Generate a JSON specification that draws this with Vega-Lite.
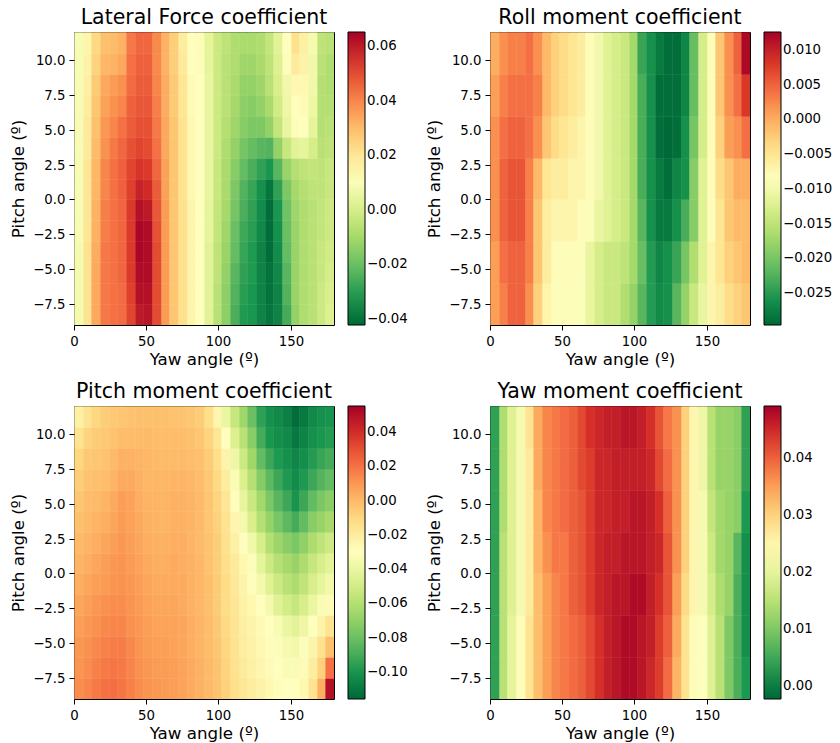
{"$schema":"https://vega.github.io/schema/vega-lite/v6.json","padding":{"left":10,"top":7,"right":0,"bottom":0},"autosize":{"type":"pad"},"background":"white",
"config":{"font":"DejaVu Sans","view":{"stroke":"black","strokeWidth":1},"title":{"fontSize":20.5,"font":"DejaVu Sans","fontWeight":"normal","offset":4,"color":"black"},"axis":{"grid":false,"domain":false,"tickColor":"black","tickSize":5,"tickWidth":1,"labelFontSize":13.3,"titleFontSize":16.7,"titleFontWeight":"normal","labelColor":"black","titleColor":"black","labelPadding":4,"titlePadding":5,"labelFlush":false,"labelOverlap":false},"axisX":{"titlePadding":4},"legend":{"gradientLength":293,"gradientThickness":17,"labelFontSize":13.3,"labelColor":"black","gradientStrokeColor":"black","gradientStrokeWidth":1,"offset":14,"title":null,"padding":0,"labelOverlap":false,"labelOffset":14}},
"columns":2,"spacing":{"column":17,"row":12},
"resolve":{"scale":{"color":"independent"}},
"datasets":{
"a":[{"x":3,"y":-8.25,"v":0.008},{"x":9,"y":-8.25,"v":0.021},{"x":15,"y":-8.25,"v":0.034},{"x":21,"y":-8.25,"v":0.042},{"x":27,"y":-8.25,"v":0.043},{"x":33,"y":-8.25,"v":0.044},{"x":39,"y":-8.25,"v":0.051},{"x":45,"y":-8.25,"v":0.06},{"x":51,"y":-8.25,"v":0.061},{"x":57,"y":-8.25,"v":0.05},{"x":63,"y":-8.25,"v":0.036},{"x":69,"y":-8.25,"v":0.028},{"x":75,"y":-8.25,"v":0.022},{"x":81,"y":-8.25,"v":0.015},{"x":87,"y":-8.25,"v":0.011},{"x":93,"y":-8.25,"v":0.003},{"x":99,"y":-8.25,"v":-0.006},{"x":105,"y":-8.25,"v":-0.014},{"x":111,"y":-8.25,"v":-0.025},{"x":117,"y":-8.25,"v":-0.031},{"x":123,"y":-8.25,"v":-0.032},{"x":129,"y":-8.25,"v":-0.036},{"x":135,"y":-8.25,"v":-0.039},{"x":141,"y":-8.25,"v":-0.036},{"x":147,"y":-8.25,"v":-0.026},{"x":153,"y":-8.25,"v":-0.013},{"x":159,"y":-8.25,"v":-0.008},{"x":165,"y":-8.25,"v":-0.006},{"x":171,"y":-8.25,"v":-0.002},{"x":177,"y":-8.25,"v":0.002},
{"x":3,"y":-6.75,"v":0.008},{"x":9,"y":-6.75,"v":0.021},{"x":15,"y":-6.75,"v":0.034},{"x":21,"y":-6.75,"v":0.042},{"x":27,"y":-6.75,"v":0.043},{"x":33,"y":-6.75,"v":0.044},{"x":39,"y":-6.75,"v":0.052},{"x":45,"y":-6.75,"v":0.062},{"x":51,"y":-6.75,"v":0.062},{"x":57,"y":-6.75,"v":0.05},{"x":63,"y":-6.75,"v":0.036},{"x":69,"y":-6.75,"v":0.028},{"x":75,"y":-6.75,"v":0.022},{"x":81,"y":-6.75,"v":0.015},{"x":87,"y":-6.75,"v":0.011},{"x":93,"y":-6.75,"v":0.003},{"x":99,"y":-6.75,"v":-0.006},{"x":105,"y":-6.75,"v":-0.014},{"x":111,"y":-6.75,"v":-0.024},{"x":117,"y":-6.75,"v":-0.03},{"x":123,"y":-6.75,"v":-0.032},{"x":129,"y":-6.75,"v":-0.036},{"x":135,"y":-6.75,"v":-0.04},{"x":141,"y":-6.75,"v":-0.036},{"x":147,"y":-6.75,"v":-0.024},{"x":153,"y":-6.75,"v":-0.012},{"x":159,"y":-6.75,"v":-0.008},{"x":165,"y":-6.75,"v":-0.006},{"x":171,"y":-6.75,"v":-0.002},{"x":177,"y":-6.75,"v":0.001},
{"x":3,"y":-5.25,"v":0.008},{"x":9,"y":-5.25,"v":0.021},{"x":15,"y":-5.25,"v":0.034},{"x":21,"y":-5.25,"v":0.042},{"x":27,"y":-5.25,"v":0.043},{"x":33,"y":-5.25,"v":0.045},{"x":39,"y":-5.25,"v":0.053},{"x":45,"y":-5.25,"v":0.063},{"x":51,"y":-5.25,"v":0.063},{"x":57,"y":-5.25,"v":0.05},{"x":63,"y":-5.25,"v":0.036},{"x":69,"y":-5.25,"v":0.028},{"x":75,"y":-5.25,"v":0.022},{"x":81,"y":-5.25,"v":0.015},{"x":87,"y":-5.25,"v":0.011},{"x":93,"y":-5.25,"v":0.003},{"x":99,"y":-5.25,"v":-0.005},{"x":105,"y":-5.25,"v":-0.013},{"x":111,"y":-5.25,"v":-0.023},{"x":117,"y":-5.25,"v":-0.029},{"x":123,"y":-5.25,"v":-0.031},{"x":129,"y":-5.25,"v":-0.036},{"x":135,"y":-5.25,"v":-0.04},{"x":141,"y":-5.25,"v":-0.035},{"x":147,"y":-5.25,"v":-0.023},{"x":153,"y":-5.25,"v":-0.012},{"x":159,"y":-5.25,"v":-0.008},{"x":165,"y":-5.25,"v":-0.006},{"x":171,"y":-5.25,"v":-0.003},{"x":177,"y":-5.25,"v":0.0},
{"x":3,"y":-3.75,"v":0.008},{"x":9,"y":-3.75,"v":0.021},{"x":15,"y":-3.75,"v":0.033},{"x":21,"y":-3.75,"v":0.042},{"x":27,"y":-3.75,"v":0.043},{"x":33,"y":-3.75,"v":0.045},{"x":39,"y":-3.75,"v":0.053},{"x":45,"y":-3.75,"v":0.064},{"x":51,"y":-3.75,"v":0.063},{"x":57,"y":-3.75,"v":0.05},{"x":63,"y":-3.75,"v":0.036},{"x":69,"y":-3.75,"v":0.028},{"x":75,"y":-3.75,"v":0.022},{"x":81,"y":-3.75,"v":0.015},{"x":87,"y":-3.75,"v":0.011},{"x":93,"y":-3.75,"v":0.003},{"x":99,"y":-3.75,"v":-0.005},{"x":105,"y":-3.75,"v":-0.012},{"x":111,"y":-3.75,"v":-0.021},{"x":117,"y":-3.75,"v":-0.028},{"x":123,"y":-3.75,"v":-0.031},{"x":129,"y":-3.75,"v":-0.036},{"x":135,"y":-3.75,"v":-0.041},{"x":141,"y":-3.75,"v":-0.034},{"x":147,"y":-3.75,"v":-0.021},{"x":153,"y":-3.75,"v":-0.012},{"x":159,"y":-3.75,"v":-0.008},{"x":165,"y":-3.75,"v":-0.006},{"x":171,"y":-3.75,"v":-0.003},{"x":177,"y":-3.75,"v":-0.001},
{"x":3,"y":-2.25,"v":0.009},{"x":9,"y":-2.25,"v":0.02},{"x":15,"y":-2.25,"v":0.032},{"x":21,"y":-2.25,"v":0.041},{"x":27,"y":-2.25,"v":0.043},{"x":33,"y":-2.25,"v":0.045},{"x":39,"y":-2.25,"v":0.053},{"x":45,"y":-2.25,"v":0.064},{"x":51,"y":-2.25,"v":0.063},{"x":57,"y":-2.25,"v":0.049},{"x":63,"y":-2.25,"v":0.036},{"x":69,"y":-2.25,"v":0.028},{"x":75,"y":-2.25,"v":0.022},{"x":81,"y":-2.25,"v":0.015},{"x":87,"y":-2.25,"v":0.011},{"x":93,"y":-2.25,"v":0.004},{"x":99,"y":-2.25,"v":-0.004},{"x":105,"y":-2.25,"v":-0.011},{"x":111,"y":-2.25,"v":-0.02},{"x":117,"y":-2.25,"v":-0.027},{"x":123,"y":-2.25,"v":-0.03},{"x":129,"y":-2.25,"v":-0.035},{"x":135,"y":-2.25,"v":-0.041},{"x":141,"y":-2.25,"v":-0.033},{"x":147,"y":-2.25,"v":-0.02},{"x":153,"y":-2.25,"v":-0.012},{"x":159,"y":-2.25,"v":-0.008},{"x":165,"y":-2.25,"v":-0.006},{"x":171,"y":-2.25,"v":-0.004},{"x":177,"y":-2.25,"v":-0.002},
{"x":3,"y":-0.75,"v":0.009},{"x":9,"y":-0.75,"v":0.02},{"x":15,"y":-0.75,"v":0.032},{"x":21,"y":-0.75,"v":0.041},{"x":27,"y":-0.75,"v":0.043},{"x":33,"y":-0.75,"v":0.045},{"x":39,"y":-0.75,"v":0.053},{"x":45,"y":-0.75,"v":0.062},{"x":51,"y":-0.75,"v":0.06},{"x":57,"y":-0.75,"v":0.048},{"x":63,"y":-0.75,"v":0.036},{"x":69,"y":-0.75,"v":0.028},{"x":75,"y":-0.75,"v":0.022},{"x":81,"y":-0.75,"v":0.015},{"x":87,"y":-0.75,"v":0.011},{"x":93,"y":-0.75,"v":0.004},{"x":99,"y":-0.75,"v":-0.004},{"x":105,"y":-0.75,"v":-0.01},{"x":111,"y":-0.75,"v":-0.018},{"x":117,"y":-0.75,"v":-0.025},{"x":123,"y":-0.75,"v":-0.029},{"x":129,"y":-0.75,"v":-0.034},{"x":135,"y":-0.75,"v":-0.041},{"x":141,"y":-0.75,"v":-0.032},{"x":147,"y":-0.75,"v":-0.019},{"x":153,"y":-0.75,"v":-0.011},{"x":159,"y":-0.75,"v":-0.008},{"x":165,"y":-0.75,"v":-0.006},{"x":171,"y":-0.75,"v":-0.004},{"x":177,"y":-0.75,"v":-0.002},
{"x":3,"y":0.75,"v":0.009},{"x":9,"y":0.75,"v":0.02},{"x":15,"y":0.75,"v":0.031},{"x":21,"y":0.75,"v":0.04},{"x":27,"y":0.75,"v":0.043},{"x":33,"y":0.75,"v":0.046},{"x":39,"y":0.75,"v":0.052},{"x":45,"y":0.75,"v":0.058},{"x":51,"y":0.75,"v":0.056},{"x":57,"y":0.75,"v":0.047},{"x":63,"y":0.75,"v":0.035},{"x":69,"y":0.75,"v":0.028},{"x":75,"y":0.75,"v":0.021},{"x":81,"y":0.75,"v":0.014},{"x":87,"y":0.75,"v":0.011},{"x":93,"y":0.75,"v":0.005},{"x":99,"y":0.75,"v":-0.003},{"x":105,"y":0.75,"v":-0.009},{"x":111,"y":0.75,"v":-0.017},{"x":117,"y":0.75,"v":-0.024},{"x":123,"y":0.75,"v":-0.028},{"x":129,"y":0.75,"v":-0.033},{"x":135,"y":0.75,"v":-0.039},{"x":141,"y":0.75,"v":-0.029},{"x":147,"y":0.75,"v":-0.017},{"x":153,"y":0.75,"v":-0.01},{"x":159,"y":0.75,"v":-0.007},{"x":165,"y":0.75,"v":-0.005},{"x":171,"y":0.75,"v":-0.005},{"x":177,"y":0.75,"v":-0.003},
{"x":3,"y":2.25,"v":0.009},{"x":9,"y":2.25,"v":0.02},{"x":15,"y":2.25,"v":0.031},{"x":21,"y":2.25,"v":0.04},{"x":27,"y":2.25,"v":0.043},{"x":33,"y":2.25,"v":0.046},{"x":39,"y":2.25,"v":0.051},{"x":45,"y":2.25,"v":0.054},{"x":51,"y":2.25,"v":0.053},{"x":57,"y":2.25,"v":0.045},{"x":63,"y":2.25,"v":0.035},{"x":69,"y":2.25,"v":0.028},{"x":75,"y":2.25,"v":0.021},{"x":81,"y":2.25,"v":0.014},{"x":87,"y":2.25,"v":0.011},{"x":93,"y":2.25,"v":0.005},{"x":99,"y":2.25,"v":-0.003},{"x":105,"y":2.25,"v":-0.009},{"x":111,"y":2.25,"v":-0.015},{"x":117,"y":2.25,"v":-0.021},{"x":123,"y":2.25,"v":-0.025},{"x":129,"y":2.25,"v":-0.029},{"x":135,"y":2.25,"v":-0.032},{"x":141,"y":2.25,"v":-0.023},{"x":147,"y":2.25,"v":-0.012},{"x":153,"y":2.25,"v":-0.007},{"x":159,"y":2.25,"v":-0.005},{"x":165,"y":2.25,"v":-0.004},{"x":171,"y":2.25,"v":-0.005},{"x":177,"y":2.25,"v":-0.003},
{"x":3,"y":3.75,"v":0.009},{"x":9,"y":3.75,"v":0.019},{"x":15,"y":3.75,"v":0.03},{"x":21,"y":3.75,"v":0.038},{"x":27,"y":3.75,"v":0.042},{"x":33,"y":3.75,"v":0.045},{"x":39,"y":3.75,"v":0.049},{"x":45,"y":3.75,"v":0.051},{"x":51,"y":3.75,"v":0.05},{"x":57,"y":3.75,"v":0.043},{"x":63,"y":3.75,"v":0.034},{"x":69,"y":3.75,"v":0.028},{"x":75,"y":3.75,"v":0.021},{"x":81,"y":3.75,"v":0.014},{"x":87,"y":3.75,"v":0.011},{"x":93,"y":3.75,"v":0.005},{"x":99,"y":3.75,"v":-0.002},{"x":105,"y":3.75,"v":-0.008},{"x":111,"y":3.75,"v":-0.013},{"x":117,"y":3.75,"v":-0.018},{"x":123,"y":3.75,"v":-0.021},{"x":129,"y":3.75,"v":-0.023},{"x":135,"y":3.75,"v":-0.024},{"x":141,"y":3.75,"v":-0.013},{"x":147,"y":3.75,"v":-0.003},{"x":153,"y":3.75,"v":0.003},{"x":159,"y":3.75,"v":0.004},{"x":165,"y":3.75,"v":0.0},{"x":171,"y":3.75,"v":-0.006},{"x":177,"y":3.75,"v":-0.005},
{"x":3,"y":5.25,"v":0.009},{"x":9,"y":5.25,"v":0.019},{"x":15,"y":5.25,"v":0.029},{"x":21,"y":5.25,"v":0.037},{"x":27,"y":5.25,"v":0.04},{"x":33,"y":5.25,"v":0.043},{"x":39,"y":5.25,"v":0.047},{"x":45,"y":5.25,"v":0.049},{"x":51,"y":5.25,"v":0.049},{"x":57,"y":5.25,"v":0.042},{"x":63,"y":5.25,"v":0.034},{"x":69,"y":5.25,"v":0.028},{"x":75,"y":5.25,"v":0.021},{"x":81,"y":5.25,"v":0.014},{"x":87,"y":5.25,"v":0.011},{"x":93,"y":5.25,"v":0.005},{"x":99,"y":5.25,"v":-0.002},{"x":105,"y":5.25,"v":-0.007},{"x":111,"y":5.25,"v":-0.011},{"x":117,"y":5.25,"v":-0.015},{"x":123,"y":5.25,"v":-0.017},{"x":129,"y":5.25,"v":-0.017},{"x":135,"y":5.25,"v":-0.013},{"x":141,"y":5.25,"v":-0.004},{"x":147,"y":5.25,"v":0.005},{"x":153,"y":5.25,"v":0.01},{"x":159,"y":5.25,"v":0.011},{"x":165,"y":5.25,"v":0.004},{"x":171,"y":5.25,"v":-0.007},{"x":177,"y":5.25,"v":-0.006},
{"x":3,"y":6.75,"v":0.009},{"x":9,"y":6.75,"v":0.018},{"x":15,"y":6.75,"v":0.028},{"x":21,"y":6.75,"v":0.035},{"x":27,"y":6.75,"v":0.038},{"x":33,"y":6.75,"v":0.04},{"x":39,"y":6.75,"v":0.046},{"x":45,"y":6.75,"v":0.048},{"x":51,"y":6.75,"v":0.048},{"x":57,"y":6.75,"v":0.041},{"x":63,"y":6.75,"v":0.033},{"x":69,"y":6.75,"v":0.027},{"x":75,"y":6.75,"v":0.02},{"x":81,"y":6.75,"v":0.013},{"x":87,"y":6.75,"v":0.011},{"x":93,"y":6.75,"v":0.005},{"x":99,"y":6.75,"v":-0.002},{"x":105,"y":6.75,"v":-0.006},{"x":111,"y":6.75,"v":-0.01},{"x":117,"y":6.75,"v":-0.014},{"x":123,"y":6.75,"v":-0.015},{"x":129,"y":6.75,"v":-0.013},{"x":135,"y":6.75,"v":-0.009},{"x":141,"y":6.75,"v":-0.001},{"x":147,"y":6.75,"v":0.006},{"x":153,"y":6.75,"v":0.012},{"x":159,"y":6.75,"v":0.013},{"x":165,"y":6.75,"v":0.006},{"x":171,"y":6.75,"v":-0.007},{"x":177,"y":6.75,"v":-0.007},
{"x":3,"y":8.25,"v":0.009},{"x":9,"y":8.25,"v":0.017},{"x":15,"y":8.25,"v":0.027},{"x":21,"y":8.25,"v":0.034},{"x":27,"y":8.25,"v":0.036},{"x":33,"y":8.25,"v":0.038},{"x":39,"y":8.25,"v":0.044},{"x":45,"y":8.25,"v":0.047},{"x":51,"y":8.25,"v":0.047},{"x":57,"y":8.25,"v":0.04},{"x":63,"y":8.25,"v":0.033},{"x":69,"y":8.25,"v":0.027},{"x":75,"y":8.25,"v":0.02},{"x":81,"y":8.25,"v":0.013},{"x":87,"y":8.25,"v":0.011},{"x":93,"y":8.25,"v":0.005},{"x":99,"y":8.25,"v":-0.002},{"x":105,"y":8.25,"v":-0.006},{"x":111,"y":8.25,"v":-0.009},{"x":117,"y":8.25,"v":-0.013},{"x":123,"y":8.25,"v":-0.013},{"x":129,"y":8.25,"v":-0.011},{"x":135,"y":8.25,"v":-0.006},{"x":141,"y":8.25,"v":0.001},{"x":147,"y":8.25,"v":0.007},{"x":153,"y":8.25,"v":0.014},{"x":159,"y":8.25,"v":0.014},{"x":165,"y":8.25,"v":0.007},{"x":171,"y":8.25,"v":-0.007},{"x":177,"y":8.25,"v":-0.008},
{"x":3,"y":9.75,"v":0.009},{"x":9,"y":9.75,"v":0.016},{"x":15,"y":9.75,"v":0.025},{"x":21,"y":9.75,"v":0.031},{"x":27,"y":9.75,"v":0.032},{"x":33,"y":9.75,"v":0.034},{"x":39,"y":9.75,"v":0.043},{"x":45,"y":9.75,"v":0.046},{"x":51,"y":9.75,"v":0.046},{"x":57,"y":9.75,"v":0.039},{"x":63,"y":9.75,"v":0.032},{"x":69,"y":9.75,"v":0.026},{"x":75,"y":9.75,"v":0.019},{"x":81,"y":9.75,"v":0.012},{"x":87,"y":9.75,"v":0.01},{"x":93,"y":9.75,"v":0.004},{"x":99,"y":9.75,"v":-0.002},{"x":105,"y":9.75,"v":-0.006},{"x":111,"y":9.75,"v":-0.008},{"x":117,"y":9.75,"v":-0.011},{"x":123,"y":9.75,"v":-0.011},{"x":129,"y":9.75,"v":-0.009},{"x":135,"y":9.75,"v":-0.005},{"x":141,"y":9.75,"v":0.002},{"x":147,"y":9.75,"v":0.01},{"x":153,"y":9.75,"v":0.019},{"x":159,"y":9.75,"v":0.016},{"x":165,"y":9.75,"v":0.007},{"x":171,"y":9.75,"v":-0.006},{"x":177,"y":9.75,"v":-0.008},
{"x":3,"y":11.25,"v":0.009},{"x":9,"y":11.25,"v":0.015},{"x":15,"y":11.25,"v":0.024},{"x":21,"y":11.25,"v":0.029},{"x":27,"y":11.25,"v":0.03},{"x":33,"y":11.25,"v":0.032},{"x":39,"y":11.25,"v":0.042},{"x":45,"y":11.25,"v":0.045},{"x":51,"y":11.25,"v":0.045},{"x":57,"y":11.25,"v":0.039},{"x":63,"y":11.25,"v":0.032},{"x":69,"y":11.25,"v":0.026},{"x":75,"y":11.25,"v":0.018},{"x":81,"y":11.25,"v":0.012},{"x":87,"y":11.25,"v":0.01},{"x":93,"y":11.25,"v":0.004},{"x":99,"y":11.25,"v":-0.002},{"x":105,"y":11.25,"v":-0.005},{"x":111,"y":11.25,"v":-0.008},{"x":117,"y":11.25,"v":-0.009},{"x":123,"y":11.25,"v":-0.009},{"x":129,"y":11.25,"v":-0.008},{"x":135,"y":11.25,"v":-0.004},{"x":141,"y":11.25,"v":0.003},{"x":147,"y":11.25,"v":0.011},{"x":153,"y":11.25,"v":0.022},{"x":159,"y":11.25,"v":0.017},{"x":165,"y":11.25,"v":0.008},{"x":171,"y":11.25,"v":-0.005},{"x":177,"y":11.25,"v":-0.006}],
"b":[{"x":3,"y":-7.5,"v":0.001},{"x":9,"y":-7.5,"v":0.003},{"x":15,"y":-7.5,"v":0.005},{"x":21,"y":-7.5,"v":0.005},{"x":27,"y":-7.5,"v":0.002},{"x":33,"y":-7.5,"v":-0.003},{"x":39,"y":-7.5,"v":-0.007},{"x":45,"y":-7.5,"v":-0.008},{"x":51,"y":-7.5,"v":-0.009},{"x":57,"y":-7.5,"v":-0.009},{"x":63,"y":-7.5,"v":-0.009},{"x":69,"y":-7.5,"v":-0.011},{"x":75,"y":-7.5,"v":-0.013},{"x":81,"y":-7.5,"v":-0.014},{"x":87,"y":-7.5,"v":-0.014},{"x":93,"y":-7.5,"v":-0.016},{"x":99,"y":-7.5,"v":-0.018},{"x":105,"y":-7.5,"v":-0.022},{"x":111,"y":-7.5,"v":-0.025},{"x":117,"y":-7.5,"v":-0.0265},{"x":123,"y":-7.5,"v":-0.026},{"x":129,"y":-7.5,"v":-0.022},{"x":135,"y":-7.5,"v":-0.018},{"x":141,"y":-7.5,"v":-0.014},{"x":147,"y":-7.5,"v":-0.011},{"x":153,"y":-7.5,"v":-0.007},{"x":159,"y":-7.5,"v":-0.006},{"x":165,"y":-7.5,"v":-0.004},{"x":171,"y":-7.5,"v":-0.003},{"x":177,"y":-7.5,"v":-0.002},
{"x":3,"y":-4.5,"v":0.001},{"x":9,"y":-4.5,"v":0.004},{"x":15,"y":-4.5,"v":0.005},{"x":21,"y":-4.5,"v":0.005},{"x":27,"y":-4.5,"v":0.003},{"x":33,"y":-4.5,"v":-0.002},{"x":39,"y":-4.5,"v":-0.006},{"x":45,"y":-4.5,"v":-0.008},{"x":51,"y":-4.5,"v":-0.008},{"x":57,"y":-4.5,"v":-0.008},{"x":63,"y":-4.5,"v":-0.009},{"x":69,"y":-4.5,"v":-0.011},{"x":75,"y":-4.5,"v":-0.013},{"x":81,"y":-4.5,"v":-0.014},{"x":87,"y":-4.5,"v":-0.014},{"x":93,"y":-4.5,"v":-0.015},{"x":99,"y":-4.5,"v":-0.017},{"x":105,"y":-4.5,"v":-0.021},{"x":111,"y":-4.5,"v":-0.025},{"x":117,"y":-4.5,"v":-0.027},{"x":123,"y":-4.5,"v":-0.026},{"x":129,"y":-4.5,"v":-0.024},{"x":135,"y":-4.5,"v":-0.02},{"x":141,"y":-4.5,"v":-0.016},{"x":147,"y":-4.5,"v":-0.012},{"x":153,"y":-4.5,"v":-0.007},{"x":159,"y":-4.5,"v":-0.005},{"x":165,"y":-4.5,"v":-0.003},{"x":171,"y":-4.5,"v":-0.002},{"x":177,"y":-4.5,"v":-0.001},
{"x":3,"y":-1.5,"v":0.002},{"x":9,"y":-1.5,"v":0.005},{"x":15,"y":-1.5,"v":0.006},{"x":21,"y":-1.5,"v":0.006},{"x":27,"y":-1.5,"v":0.003},{"x":33,"y":-1.5,"v":-0.002},{"x":39,"y":-1.5,"v":-0.006},{"x":45,"y":-1.5,"v":-0.007},{"x":51,"y":-1.5,"v":-0.007},{"x":57,"y":-1.5,"v":-0.007},{"x":63,"y":-1.5,"v":-0.008},{"x":69,"y":-1.5,"v":-0.009},{"x":75,"y":-1.5,"v":-0.011},{"x":81,"y":-1.5,"v":-0.012},{"x":87,"y":-1.5,"v":-0.013},{"x":93,"y":-1.5,"v":-0.014},{"x":99,"y":-1.5,"v":-0.017},{"x":105,"y":-1.5,"v":-0.022},{"x":111,"y":-1.5,"v":-0.026},{"x":117,"y":-1.5,"v":-0.028},{"x":123,"y":-1.5,"v":-0.028},{"x":129,"y":-1.5,"v":-0.026},{"x":135,"y":-1.5,"v":-0.023},{"x":141,"y":-1.5,"v":-0.019},{"x":147,"y":-1.5,"v":-0.012},{"x":153,"y":-1.5,"v":-0.008},{"x":159,"y":-1.5,"v":-0.005},{"x":165,"y":-1.5,"v":-0.002},{"x":171,"y":-1.5,"v":-0.001},{"x":177,"y":-1.5,"v":-0.001},
{"x":3,"y":1.5,"v":0.002},{"x":9,"y":1.5,"v":0.005},{"x":15,"y":1.5,"v":0.006},{"x":21,"y":1.5,"v":0.006},{"x":27,"y":1.5,"v":0.003},{"x":33,"y":1.5,"v":-0.001},{"x":39,"y":1.5,"v":-0.005},{"x":45,"y":1.5,"v":-0.006},{"x":51,"y":1.5,"v":-0.006},{"x":57,"y":1.5,"v":-0.007},{"x":63,"y":1.5,"v":-0.007},{"x":69,"y":1.5,"v":-0.008},{"x":75,"y":1.5,"v":-0.01},{"x":81,"y":1.5,"v":-0.012},{"x":87,"y":1.5,"v":-0.013},{"x":93,"y":1.5,"v":-0.014},{"x":99,"y":1.5,"v":-0.017},{"x":105,"y":1.5,"v":-0.023},{"x":111,"y":1.5,"v":-0.026},{"x":117,"y":1.5,"v":-0.028},{"x":123,"y":1.5,"v":-0.029},{"x":129,"y":1.5,"v":-0.027},{"x":135,"y":1.5,"v":-0.026},{"x":141,"y":1.5,"v":-0.019},{"x":147,"y":1.5,"v":-0.012},{"x":153,"y":1.5,"v":-0.008},{"x":159,"y":1.5,"v":-0.004},{"x":165,"y":1.5,"v":-0.002},{"x":171,"y":1.5,"v":0.0},{"x":177,"y":1.5,"v":0.0},
{"x":3,"y":4.5,"v":0.002},{"x":9,"y":4.5,"v":0.004},{"x":15,"y":4.5,"v":0.005},{"x":21,"y":4.5,"v":0.005},{"x":27,"y":4.5,"v":0.004},{"x":33,"y":4.5,"v":0.002},{"x":39,"y":4.5,"v":-0.002},{"x":45,"y":4.5,"v":-0.004},{"x":51,"y":4.5,"v":-0.005},{"x":57,"y":4.5,"v":-0.006},{"x":63,"y":4.5,"v":-0.007},{"x":69,"y":4.5,"v":-0.008},{"x":75,"y":4.5,"v":-0.01},{"x":81,"y":4.5,"v":-0.012},{"x":87,"y":4.5,"v":-0.013},{"x":93,"y":4.5,"v":-0.014},{"x":99,"y":4.5,"v":-0.017},{"x":105,"y":4.5,"v":-0.023},{"x":111,"y":4.5,"v":-0.026},{"x":117,"y":4.5,"v":-0.029},{"x":123,"y":4.5,"v":-0.0295},{"x":129,"y":4.5,"v":-0.029},{"x":135,"y":4.5,"v":-0.026},{"x":141,"y":4.5,"v":-0.02},{"x":147,"y":4.5,"v":-0.013},{"x":153,"y":4.5,"v":-0.008},{"x":159,"y":4.5,"v":-0.003},{"x":165,"y":4.5,"v":0.001},{"x":171,"y":4.5,"v":0.002},{"x":177,"y":4.5,"v":0.004},
{"x":3,"y":7.5,"v":0.001},{"x":9,"y":7.5,"v":0.003},{"x":15,"y":7.5,"v":0.004},{"x":21,"y":7.5,"v":0.004},{"x":27,"y":7.5,"v":0.004},{"x":33,"y":7.5,"v":0.003},{"x":39,"y":7.5,"v":-0.001},{"x":45,"y":7.5,"v":-0.003},{"x":51,"y":7.5,"v":-0.004},{"x":57,"y":7.5,"v":-0.005},{"x":63,"y":7.5,"v":-0.006},{"x":69,"y":7.5,"v":-0.008},{"x":75,"y":7.5,"v":-0.01},{"x":81,"y":7.5,"v":-0.012},{"x":87,"y":7.5,"v":-0.013},{"x":93,"y":7.5,"v":-0.014},{"x":99,"y":7.5,"v":-0.017},{"x":105,"y":7.5,"v":-0.023},{"x":111,"y":7.5,"v":-0.026},{"x":117,"y":7.5,"v":-0.029},{"x":123,"y":7.5,"v":-0.029},{"x":129,"y":7.5,"v":-0.029},{"x":135,"y":7.5,"v":-0.027},{"x":141,"y":7.5,"v":-0.021},{"x":147,"y":7.5,"v":-0.013},{"x":153,"y":7.5,"v":-0.008},{"x":159,"y":7.5,"v":-0.002},{"x":165,"y":7.5,"v":0.002},{"x":171,"y":7.5,"v":0.004},{"x":177,"y":7.5,"v":0.008},
{"x":3,"y":10.5,"v":0.0},{"x":9,"y":10.5,"v":0.002},{"x":15,"y":10.5,"v":0.003},{"x":21,"y":10.5,"v":0.003},{"x":27,"y":10.5,"v":0.004},{"x":33,"y":10.5,"v":0.002},{"x":39,"y":10.5,"v":-0.001},{"x":45,"y":10.5,"v":-0.003},{"x":51,"y":10.5,"v":-0.004},{"x":57,"y":10.5,"v":-0.005},{"x":63,"y":10.5,"v":-0.006},{"x":69,"y":10.5,"v":-0.008},{"x":75,"y":10.5,"v":-0.01},{"x":81,"y":10.5,"v":-0.012},{"x":87,"y":10.5,"v":-0.013},{"x":93,"y":10.5,"v":-0.014},{"x":99,"y":10.5,"v":-0.017},{"x":105,"y":10.5,"v":-0.024},{"x":111,"y":10.5,"v":-0.026},{"x":117,"y":10.5,"v":-0.028},{"x":123,"y":10.5,"v":-0.029},{"x":129,"y":10.5,"v":-0.029},{"x":135,"y":10.5,"v":-0.027},{"x":141,"y":10.5,"v":-0.021},{"x":147,"y":10.5,"v":-0.013},{"x":153,"y":10.5,"v":-0.008},{"x":159,"y":10.5,"v":-0.002},{"x":165,"y":10.5,"v":0.002},{"x":171,"y":10.5,"v":0.005},{"x":177,"y":10.5,"v":0.012}],
"c":[{"x":3,"y":-8.25,"v":0.013},{"x":9,"y":-8.25,"v":0.015},{"x":15,"y":-8.25,"v":0.018},{"x":21,"y":-8.25,"v":0.02},{"x":27,"y":-8.25,"v":0.021},{"x":33,"y":-8.25,"v":0.019},{"x":39,"y":-8.25,"v":0.016},{"x":45,"y":-8.25,"v":0.013},{"x":51,"y":-8.25,"v":0.011},{"x":57,"y":-8.25,"v":0.01},{"x":63,"y":-8.25,"v":0.009},{"x":69,"y":-8.25,"v":0.008},{"x":75,"y":-8.25,"v":0.007},{"x":81,"y":-8.25,"v":0.005},{"x":87,"y":-8.25,"v":0.003},{"x":93,"y":-8.25,"v":0.0},{"x":99,"y":-8.25,"v":-0.003},{"x":105,"y":-8.25,"v":-0.008},{"x":111,"y":-8.25,"v":-0.013},{"x":117,"y":-8.25,"v":-0.017},{"x":123,"y":-8.25,"v":-0.02},{"x":129,"y":-8.25,"v":-0.023},{"x":135,"y":-8.25,"v":-0.026},{"x":141,"y":-8.25,"v":-0.029},{"x":147,"y":-8.25,"v":-0.03},{"x":153,"y":-8.25,"v":-0.03},{"x":159,"y":-8.25,"v":-0.026},{"x":165,"y":-8.25,"v":-0.015},{"x":171,"y":-8.25,"v":0.004},{"x":177,"y":-8.25,"v":0.05},
{"x":3,"y":-6.75,"v":0.011},{"x":9,"y":-6.75,"v":0.013},{"x":15,"y":-6.75,"v":0.016},{"x":21,"y":-6.75,"v":0.018},{"x":27,"y":-6.75,"v":0.019},{"x":33,"y":-6.75,"v":0.018},{"x":39,"y":-6.75,"v":0.015},{"x":45,"y":-6.75,"v":0.012},{"x":51,"y":-6.75,"v":0.01},{"x":57,"y":-6.75,"v":0.009},{"x":63,"y":-6.75,"v":0.009},{"x":69,"y":-6.75,"v":0.008},{"x":75,"y":-6.75,"v":0.007},{"x":81,"y":-6.75,"v":0.005},{"x":87,"y":-6.75,"v":0.003},{"x":93,"y":-6.75,"v":0.0},{"x":99,"y":-6.75,"v":-0.003},{"x":105,"y":-6.75,"v":-0.009},{"x":111,"y":-6.75,"v":-0.014},{"x":117,"y":-6.75,"v":-0.019},{"x":123,"y":-6.75,"v":-0.022},{"x":129,"y":-6.75,"v":-0.025},{"x":135,"y":-6.75,"v":-0.028},{"x":141,"y":-6.75,"v":-0.031},{"x":147,"y":-6.75,"v":-0.033},{"x":153,"y":-6.75,"v":-0.033},{"x":159,"y":-6.75,"v":-0.028},{"x":165,"y":-6.75,"v":-0.02},{"x":171,"y":-6.75,"v":-0.008},{"x":177,"y":-6.75,"v":0.02},
{"x":3,"y":-5.25,"v":0.01},{"x":9,"y":-5.25,"v":0.012},{"x":15,"y":-5.25,"v":0.014},{"x":21,"y":-5.25,"v":0.016},{"x":27,"y":-5.25,"v":0.017},{"x":33,"y":-5.25,"v":0.017},{"x":39,"y":-5.25,"v":0.014},{"x":45,"y":-5.25,"v":0.011},{"x":51,"y":-5.25,"v":0.009},{"x":57,"y":-5.25,"v":0.008},{"x":63,"y":-5.25,"v":0.008},{"x":69,"y":-5.25,"v":0.007},{"x":75,"y":-5.25,"v":0.006},{"x":81,"y":-5.25,"v":0.004},{"x":87,"y":-5.25,"v":0.002},{"x":93,"y":-5.25,"v":-0.001},{"x":99,"y":-5.25,"v":-0.004},{"x":105,"y":-5.25,"v":-0.01},{"x":111,"y":-5.25,"v":-0.015},{"x":117,"y":-5.25,"v":-0.02},{"x":123,"y":-5.25,"v":-0.023},{"x":129,"y":-5.25,"v":-0.026},{"x":135,"y":-5.25,"v":-0.029},{"x":141,"y":-5.25,"v":-0.032},{"x":147,"y":-5.25,"v":-0.035},{"x":153,"y":-5.25,"v":-0.037},{"x":159,"y":-5.25,"v":-0.032},{"x":165,"y":-5.25,"v":-0.024},{"x":171,"y":-5.25,"v":-0.014},{"x":177,"y":-5.25,"v":-0.002},
{"x":3,"y":-3.75,"v":0.008},{"x":9,"y":-3.75,"v":0.01},{"x":15,"y":-3.75,"v":0.012},{"x":21,"y":-3.75,"v":0.014},{"x":27,"y":-3.75,"v":0.015},{"x":33,"y":-3.75,"v":0.015},{"x":39,"y":-3.75,"v":0.012},{"x":45,"y":-3.75,"v":0.01},{"x":51,"y":-3.75,"v":0.008},{"x":57,"y":-3.75,"v":0.007},{"x":63,"y":-3.75,"v":0.007},{"x":69,"y":-3.75,"v":0.007},{"x":75,"y":-3.75,"v":0.006},{"x":81,"y":-3.75,"v":0.004},{"x":87,"y":-3.75,"v":0.002},{"x":93,"y":-3.75,"v":-0.001},{"x":99,"y":-3.75,"v":-0.005},{"x":105,"y":-3.75,"v":-0.011},{"x":111,"y":-3.75,"v":-0.016},{"x":117,"y":-3.75,"v":-0.021},{"x":123,"y":-3.75,"v":-0.024},{"x":129,"y":-3.75,"v":-0.027},{"x":135,"y":-3.75,"v":-0.03},{"x":141,"y":-3.75,"v":-0.034},{"x":147,"y":-3.75,"v":-0.04},{"x":153,"y":-3.75,"v":-0.043},{"x":159,"y":-3.75,"v":-0.038},{"x":165,"y":-3.75,"v":-0.031},{"x":171,"y":-3.75,"v":-0.023},{"x":177,"y":-3.75,"v":-0.015},
{"x":3,"y":-2.25,"v":0.006},{"x":9,"y":-2.25,"v":0.008},{"x":15,"y":-2.25,"v":0.01},{"x":21,"y":-2.25,"v":0.012},{"x":27,"y":-2.25,"v":0.013},{"x":33,"y":-2.25,"v":0.013},{"x":39,"y":-2.25,"v":0.011},{"x":45,"y":-2.25,"v":0.009},{"x":51,"y":-2.25,"v":0.007},{"x":57,"y":-2.25,"v":0.006},{"x":63,"y":-2.25,"v":0.006},{"x":69,"y":-2.25,"v":0.006},{"x":75,"y":-2.25,"v":0.005},{"x":81,"y":-2.25,"v":0.003},{"x":87,"y":-2.25,"v":0.001},{"x":93,"y":-2.25,"v":-0.002},{"x":99,"y":-2.25,"v":-0.006},{"x":105,"y":-2.25,"v":-0.012},{"x":111,"y":-2.25,"v":-0.017},{"x":117,"y":-2.25,"v":-0.022},{"x":123,"y":-2.25,"v":-0.026},{"x":129,"y":-2.25,"v":-0.03},{"x":135,"y":-2.25,"v":-0.036},{"x":141,"y":-2.25,"v":-0.044},{"x":147,"y":-2.25,"v":-0.05},{"x":153,"y":-2.25,"v":-0.054},{"x":159,"y":-2.25,"v":-0.048},{"x":165,"y":-2.25,"v":-0.04},{"x":171,"y":-2.25,"v":-0.033},{"x":177,"y":-2.25,"v":-0.028},
{"x":3,"y":-0.75,"v":0.004},{"x":9,"y":-0.75,"v":0.006},{"x":15,"y":-0.75,"v":0.008},{"x":21,"y":-0.75,"v":0.009},{"x":27,"y":-0.75,"v":0.011},{"x":33,"y":-0.75,"v":0.012},{"x":39,"y":-0.75,"v":0.01},{"x":45,"y":-0.75,"v":0.008},{"x":51,"y":-0.75,"v":0.006},{"x":57,"y":-0.75,"v":0.005},{"x":63,"y":-0.75,"v":0.005},{"x":69,"y":-0.75,"v":0.005},{"x":75,"y":-0.75,"v":0.005},{"x":81,"y":-0.75,"v":0.003},{"x":87,"y":-0.75,"v":0.001},{"x":93,"y":-0.75,"v":-0.002},{"x":99,"y":-0.75,"v":-0.006},{"x":105,"y":-0.75,"v":-0.012},{"x":111,"y":-0.75,"v":-0.018},{"x":117,"y":-0.75,"v":-0.024},{"x":123,"y":-0.75,"v":-0.029},{"x":129,"y":-0.75,"v":-0.036},{"x":135,"y":-0.75,"v":-0.045},{"x":141,"y":-0.75,"v":-0.052},{"x":147,"y":-0.75,"v":-0.058},{"x":153,"y":-0.75,"v":-0.062},{"x":159,"y":-0.75,"v":-0.056},{"x":165,"y":-0.75,"v":-0.048},{"x":171,"y":-0.75,"v":-0.042},{"x":177,"y":-0.75,"v":-0.037},
{"x":3,"y":0.75,"v":0.002},{"x":9,"y":0.75,"v":0.004},{"x":15,"y":0.75,"v":0.006},{"x":21,"y":0.75,"v":0.008},{"x":27,"y":0.75,"v":0.01},{"x":33,"y":0.75,"v":0.011},{"x":39,"y":0.75,"v":0.009},{"x":45,"y":0.75,"v":0.007},{"x":51,"y":0.75,"v":0.005},{"x":57,"y":0.75,"v":0.004},{"x":63,"y":0.75,"v":0.004},{"x":69,"y":0.75,"v":0.005},{"x":75,"y":0.75,"v":0.004},{"x":81,"y":0.75,"v":0.003},{"x":87,"y":0.75,"v":0.001},{"x":93,"y":0.75,"v":-0.003},{"x":99,"y":0.75,"v":-0.007},{"x":105,"y":0.75,"v":-0.013},{"x":111,"y":0.75,"v":-0.019},{"x":117,"y":0.75,"v":-0.026},{"x":123,"y":0.75,"v":-0.032},{"x":129,"y":0.75,"v":-0.042},{"x":135,"y":0.75,"v":-0.052},{"x":141,"y":0.75,"v":-0.059},{"x":147,"y":0.75,"v":-0.064},{"x":153,"y":0.75,"v":-0.068},{"x":159,"y":0.75,"v":-0.062},{"x":165,"y":0.75,"v":-0.054},{"x":171,"y":0.75,"v":-0.048},{"x":177,"y":0.75,"v":-0.043},
{"x":3,"y":2.25,"v":0.0},{"x":9,"y":2.25,"v":0.002},{"x":15,"y":2.25,"v":0.004},{"x":21,"y":2.25,"v":0.006},{"x":27,"y":2.25,"v":0.008},{"x":33,"y":2.25,"v":0.01},{"x":39,"y":2.25,"v":0.008},{"x":45,"y":2.25,"v":0.006},{"x":51,"y":2.25,"v":0.004},{"x":57,"y":2.25,"v":0.003},{"x":63,"y":2.25,"v":0.003},{"x":69,"y":2.25,"v":0.004},{"x":75,"y":2.25,"v":0.004},{"x":81,"y":2.25,"v":0.002},{"x":87,"y":2.25,"v":0.0},{"x":93,"y":2.25,"v":-0.003},{"x":99,"y":2.25,"v":-0.007},{"x":105,"y":2.25,"v":-0.014},{"x":111,"y":2.25,"v":-0.022},{"x":117,"y":2.25,"v":-0.03},{"x":123,"y":2.25,"v":-0.037},{"x":129,"y":2.25,"v":-0.048},{"x":135,"y":2.25,"v":-0.06},{"x":141,"y":2.25,"v":-0.067},{"x":147,"y":2.25,"v":-0.072},{"x":153,"y":2.25,"v":-0.076},{"x":159,"y":2.25,"v":-0.07},{"x":165,"y":2.25,"v":-0.062},{"x":171,"y":2.25,"v":-0.056},{"x":177,"y":2.25,"v":-0.051},
{"x":3,"y":3.75,"v":-0.002},{"x":9,"y":3.75,"v":0.0},{"x":15,"y":3.75,"v":0.002},{"x":21,"y":3.75,"v":0.004},{"x":27,"y":3.75,"v":0.006},{"x":33,"y":3.75,"v":0.009},{"x":39,"y":3.75,"v":0.007},{"x":45,"y":3.75,"v":0.005},{"x":51,"y":3.75,"v":0.003},{"x":57,"y":3.75,"v":0.002},{"x":63,"y":3.75,"v":0.002},{"x":69,"y":3.75,"v":0.003},{"x":75,"y":3.75,"v":0.003},{"x":81,"y":3.75,"v":0.002},{"x":87,"y":3.75,"v":0.0},{"x":93,"y":3.75,"v":-0.004},{"x":99,"y":3.75,"v":-0.008},{"x":105,"y":3.75,"v":-0.015},{"x":111,"y":3.75,"v":-0.025},{"x":117,"y":3.75,"v":-0.036},{"x":123,"y":3.75,"v":-0.047},{"x":129,"y":3.75,"v":-0.059},{"x":135,"y":3.75,"v":-0.069},{"x":141,"y":3.75,"v":-0.077},{"x":147,"y":3.75,"v":-0.084},{"x":153,"y":3.75,"v":-0.09},{"x":159,"y":3.75,"v":-0.082},{"x":165,"y":3.75,"v":-0.072},{"x":171,"y":3.75,"v":-0.068},{"x":177,"y":3.75,"v":-0.064},
{"x":3,"y":5.25,"v":-0.004},{"x":9,"y":5.25,"v":-0.001},{"x":15,"y":5.25,"v":0.0},{"x":21,"y":5.25,"v":0.002},{"x":27,"y":5.25,"v":0.005},{"x":33,"y":5.25,"v":0.008},{"x":39,"y":5.25,"v":0.007},{"x":45,"y":5.25,"v":0.004},{"x":51,"y":5.25,"v":0.002},{"x":57,"y":5.25,"v":0.002},{"x":63,"y":5.25,"v":0.002},{"x":69,"y":5.25,"v":0.003},{"x":75,"y":5.25,"v":0.003},{"x":81,"y":5.25,"v":0.002},{"x":87,"y":5.25,"v":0.0},{"x":93,"y":5.25,"v":-0.004},{"x":99,"y":5.25,"v":-0.009},{"x":105,"y":5.25,"v":-0.017},{"x":111,"y":5.25,"v":-0.029},{"x":117,"y":5.25,"v":-0.041},{"x":123,"y":5.25,"v":-0.053},{"x":129,"y":5.25,"v":-0.065},{"x":135,"y":5.25,"v":-0.076},{"x":141,"y":5.25,"v":-0.085},{"x":147,"y":5.25,"v":-0.092},{"x":153,"y":5.25,"v":-0.1},{"x":159,"y":5.25,"v":-0.092},{"x":165,"y":5.25,"v":-0.082},{"x":171,"y":5.25,"v":-0.076},{"x":177,"y":5.25,"v":-0.072},
{"x":3,"y":6.75,"v":-0.007},{"x":9,"y":6.75,"v":-0.003},{"x":15,"y":6.75,"v":-0.002},{"x":21,"y":6.75,"v":-0.001},{"x":27,"y":6.75,"v":0.002},{"x":33,"y":6.75,"v":0.005},{"x":39,"y":6.75,"v":0.005},{"x":45,"y":6.75,"v":0.003},{"x":51,"y":6.75,"v":0.001},{"x":57,"y":6.75,"v":0.001},{"x":63,"y":6.75,"v":0.001},{"x":69,"y":6.75,"v":0.002},{"x":75,"y":6.75,"v":0.002},{"x":81,"y":6.75,"v":0.001},{"x":87,"y":6.75,"v":-0.001},{"x":93,"y":6.75,"v":-0.005},{"x":99,"y":6.75,"v":-0.011},{"x":105,"y":6.75,"v":-0.02},{"x":111,"y":6.75,"v":-0.033},{"x":117,"y":6.75,"v":-0.046},{"x":123,"y":6.75,"v":-0.059},{"x":129,"y":6.75,"v":-0.073},{"x":135,"y":6.75,"v":-0.084},{"x":141,"y":6.75,"v":-0.092},{"x":147,"y":6.75,"v":-0.098},{"x":153,"y":6.75,"v":-0.103},{"x":159,"y":6.75,"v":-0.098},{"x":165,"y":6.75,"v":-0.092},{"x":171,"y":6.75,"v":-0.086},{"x":177,"y":6.75,"v":-0.082},
{"x":3,"y":8.25,"v":-0.01},{"x":9,"y":8.25,"v":-0.005},{"x":15,"y":8.25,"v":-0.004},{"x":21,"y":8.25,"v":-0.003},{"x":27,"y":8.25,"v":0.0},{"x":33,"y":8.25,"v":0.003},{"x":39,"y":8.25,"v":0.003},{"x":45,"y":8.25,"v":0.002},{"x":51,"y":8.25,"v":0.001},{"x":57,"y":8.25,"v":0.0},{"x":63,"y":8.25,"v":0.0},{"x":69,"y":8.25,"v":0.0},{"x":75,"y":8.25,"v":0.0},{"x":81,"y":8.25,"v":-0.001},{"x":87,"y":8.25,"v":-0.002},{"x":93,"y":8.25,"v":-0.006},{"x":99,"y":8.25,"v":-0.013},{"x":105,"y":8.25,"v":-0.024},{"x":111,"y":8.25,"v":-0.038},{"x":117,"y":8.25,"v":-0.052},{"x":123,"y":8.25,"v":-0.066},{"x":129,"y":8.25,"v":-0.082},{"x":135,"y":8.25,"v":-0.092},{"x":141,"y":8.25,"v":-0.098},{"x":147,"y":8.25,"v":-0.101},{"x":153,"y":8.25,"v":-0.105},{"x":159,"y":8.25,"v":-0.102},{"x":165,"y":8.25,"v":-0.097},{"x":171,"y":8.25,"v":-0.093},{"x":177,"y":8.25,"v":-0.09},
{"x":3,"y":9.75,"v":-0.015},{"x":9,"y":9.75,"v":-0.009},{"x":15,"y":9.75,"v":-0.006},{"x":21,"y":9.75,"v":-0.005},{"x":27,"y":9.75,"v":-0.003},{"x":33,"y":9.75,"v":-0.001},{"x":39,"y":9.75,"v":-0.001},{"x":45,"y":9.75,"v":0.0},{"x":51,"y":9.75,"v":0.0},{"x":57,"y":9.75,"v":-0.001},{"x":63,"y":9.75,"v":-0.001},{"x":69,"y":9.75,"v":-0.001},{"x":75,"y":9.75,"v":-0.001},{"x":81,"y":9.75,"v":-0.002},{"x":87,"y":9.75,"v":-0.004},{"x":93,"y":9.75,"v":-0.009},{"x":99,"y":9.75,"v":-0.017},{"x":105,"y":9.75,"v":-0.03},{"x":111,"y":9.75,"v":-0.046},{"x":117,"y":9.75,"v":-0.058},{"x":123,"y":9.75,"v":-0.072},{"x":129,"y":9.75,"v":-0.09},{"x":135,"y":9.75,"v":-0.099},{"x":141,"y":9.75,"v":-0.102},{"x":147,"y":9.75,"v":-0.104},{"x":153,"y":9.75,"v":-0.11},{"x":159,"y":9.75,"v":-0.106},{"x":165,"y":9.75,"v":-0.101},{"x":171,"y":9.75,"v":-0.099},{"x":177,"y":9.75,"v":-0.097},
{"x":3,"y":11.25,"v":-0.022},{"x":9,"y":11.25,"v":-0.015},{"x":15,"y":11.25,"v":-0.01},{"x":21,"y":11.25,"v":-0.007},{"x":27,"y":11.25,"v":-0.005},{"x":33,"y":11.25,"v":-0.004},{"x":39,"y":11.25,"v":-0.003},{"x":45,"y":11.25,"v":-0.002},{"x":51,"y":11.25,"v":-0.002},{"x":57,"y":11.25,"v":-0.002},{"x":63,"y":11.25,"v":-0.002},{"x":69,"y":11.25,"v":-0.003},{"x":75,"y":11.25,"v":-0.003},{"x":81,"y":11.25,"v":-0.004},{"x":87,"y":11.25,"v":-0.006},{"x":93,"y":11.25,"v":-0.013},{"x":99,"y":11.25,"v":-0.025},{"x":105,"y":11.25,"v":-0.04},{"x":111,"y":11.25,"v":-0.054},{"x":117,"y":11.25,"v":-0.066},{"x":123,"y":11.25,"v":-0.08},{"x":129,"y":11.25,"v":-0.095},{"x":135,"y":11.25,"v":-0.101},{"x":141,"y":11.25,"v":-0.104},{"x":147,"y":11.25,"v":-0.107},{"x":153,"y":11.25,"v":-0.114},{"x":159,"y":11.25,"v":-0.11},{"x":165,"y":11.25,"v":-0.104},{"x":171,"y":11.25,"v":-0.101},{"x":177,"y":11.25,"v":-0.1}],
"d":[{"x":3,"y":-7.5,"v":0.004},{"x":9,"y":-7.5,"v":0.015},{"x":15,"y":-7.5,"v":0.02},{"x":21,"y":-7.5,"v":0.024},{"x":27,"y":-7.5,"v":0.028},{"x":33,"y":-7.5,"v":0.032},{"x":39,"y":-7.5,"v":0.035},{"x":45,"y":-7.5,"v":0.037},{"x":51,"y":-7.5,"v":0.038},{"x":57,"y":-7.5,"v":0.039},{"x":63,"y":-7.5,"v":0.04},{"x":69,"y":-7.5,"v":0.042},{"x":75,"y":-7.5,"v":0.044},{"x":81,"y":-7.5,"v":0.046},{"x":87,"y":-7.5,"v":0.047},{"x":93,"y":-7.5,"v":0.048},{"x":99,"y":-7.5,"v":0.048},{"x":105,"y":-7.5,"v":0.047},{"x":111,"y":-7.5,"v":0.045},{"x":117,"y":-7.5,"v":0.043},{"x":123,"y":-7.5,"v":0.039},{"x":129,"y":-7.5,"v":0.033},{"x":135,"y":-7.5,"v":0.028},{"x":141,"y":-7.5,"v":0.024},{"x":147,"y":-7.5,"v":0.023},{"x":153,"y":-7.5,"v":0.019},{"x":159,"y":-7.5,"v":0.015},{"x":165,"y":-7.5,"v":0.01},{"x":171,"y":-7.5,"v":0.006},{"x":177,"y":-7.5,"v":0.003},
{"x":3,"y":-4.5,"v":0.004},{"x":9,"y":-4.5,"v":0.015},{"x":15,"y":-4.5,"v":0.02},{"x":21,"y":-4.5,"v":0.024},{"x":27,"y":-4.5,"v":0.028},{"x":33,"y":-4.5,"v":0.032},{"x":39,"y":-4.5,"v":0.035},{"x":45,"y":-4.5,"v":0.037},{"x":51,"y":-4.5,"v":0.038},{"x":57,"y":-4.5,"v":0.039},{"x":63,"y":-4.5,"v":0.04},{"x":69,"y":-4.5,"v":0.042},{"x":75,"y":-4.5,"v":0.044},{"x":81,"y":-4.5,"v":0.046},{"x":87,"y":-4.5,"v":0.047},{"x":93,"y":-4.5,"v":0.048},{"x":99,"y":-4.5,"v":0.048},{"x":105,"y":-4.5,"v":0.047},{"x":111,"y":-4.5,"v":0.046},{"x":117,"y":-4.5,"v":0.043},{"x":123,"y":-4.5,"v":0.04},{"x":129,"y":-4.5,"v":0.034},{"x":135,"y":-4.5,"v":0.028},{"x":141,"y":-4.5,"v":0.024},{"x":147,"y":-4.5,"v":0.023},{"x":153,"y":-4.5,"v":0.019},{"x":159,"y":-4.5,"v":0.015},{"x":165,"y":-4.5,"v":0.01},{"x":171,"y":-4.5,"v":0.006},{"x":177,"y":-4.5,"v":0.002},
{"x":3,"y":-1.5,"v":0.004},{"x":9,"y":-1.5,"v":0.015},{"x":15,"y":-1.5,"v":0.019},{"x":21,"y":-1.5,"v":0.022},{"x":27,"y":-1.5,"v":0.027},{"x":33,"y":-1.5,"v":0.032},{"x":39,"y":-1.5,"v":0.035},{"x":45,"y":-1.5,"v":0.037},{"x":51,"y":-1.5,"v":0.038},{"x":57,"y":-1.5,"v":0.04},{"x":63,"y":-1.5,"v":0.041},{"x":69,"y":-1.5,"v":0.043},{"x":75,"y":-1.5,"v":0.045},{"x":81,"y":-1.5,"v":0.046},{"x":87,"y":-1.5,"v":0.047},{"x":93,"y":-1.5,"v":0.047},{"x":99,"y":-1.5,"v":0.048},{"x":105,"y":-1.5,"v":0.048},{"x":111,"y":-1.5,"v":0.046},{"x":117,"y":-1.5,"v":0.044},{"x":123,"y":-1.5,"v":0.041},{"x":129,"y":-1.5,"v":0.035},{"x":135,"y":-1.5,"v":0.029},{"x":141,"y":-1.5,"v":0.025},{"x":147,"y":-1.5,"v":0.022},{"x":153,"y":-1.5,"v":0.018},{"x":159,"y":-1.5,"v":0.014},{"x":165,"y":-1.5,"v":0.012},{"x":171,"y":-1.5,"v":0.006},{"x":177,"y":-1.5,"v":0.002},
{"x":3,"y":1.5,"v":0.004},{"x":9,"y":1.5,"v":0.015},{"x":15,"y":1.5,"v":0.019},{"x":21,"y":1.5,"v":0.022},{"x":27,"y":1.5,"v":0.027},{"x":33,"y":1.5,"v":0.033},{"x":39,"y":1.5,"v":0.036},{"x":45,"y":1.5,"v":0.038},{"x":51,"y":1.5,"v":0.038},{"x":57,"y":1.5,"v":0.04},{"x":63,"y":1.5,"v":0.041},{"x":69,"y":1.5,"v":0.043},{"x":75,"y":1.5,"v":0.045},{"x":81,"y":1.5,"v":0.046},{"x":87,"y":1.5,"v":0.046},{"x":93,"y":1.5,"v":0.047},{"x":99,"y":1.5,"v":0.047},{"x":105,"y":1.5,"v":0.047},{"x":111,"y":1.5,"v":0.046},{"x":117,"y":1.5,"v":0.045},{"x":123,"y":1.5,"v":0.041},{"x":129,"y":1.5,"v":0.036},{"x":135,"y":1.5,"v":0.03},{"x":141,"y":1.5,"v":0.025},{"x":147,"y":1.5,"v":0.022},{"x":153,"y":1.5,"v":0.017},{"x":159,"y":1.5,"v":0.013},{"x":165,"y":1.5,"v":0.012},{"x":171,"y":1.5,"v":0.007},{"x":177,"y":1.5,"v":0.002},
{"x":3,"y":4.5,"v":0.004},{"x":9,"y":4.5,"v":0.014},{"x":15,"y":4.5,"v":0.019},{"x":21,"y":4.5,"v":0.022},{"x":27,"y":4.5,"v":0.027},{"x":33,"y":4.5,"v":0.033},{"x":39,"y":4.5,"v":0.037},{"x":45,"y":4.5,"v":0.038},{"x":51,"y":4.5,"v":0.039},{"x":57,"y":4.5,"v":0.04},{"x":63,"y":4.5,"v":0.041},{"x":69,"y":4.5,"v":0.043},{"x":75,"y":4.5,"v":0.045},{"x":81,"y":4.5,"v":0.045},{"x":87,"y":4.5,"v":0.046},{"x":93,"y":4.5,"v":0.046},{"x":99,"y":4.5,"v":0.047},{"x":105,"y":4.5,"v":0.047},{"x":111,"y":4.5,"v":0.046},{"x":117,"y":4.5,"v":0.044},{"x":123,"y":4.5,"v":0.04},{"x":129,"y":4.5,"v":0.036},{"x":135,"y":4.5,"v":0.03},{"x":141,"y":4.5,"v":0.025},{"x":147,"y":4.5,"v":0.022},{"x":153,"y":4.5,"v":0.016},{"x":159,"y":4.5,"v":0.013},{"x":165,"y":4.5,"v":0.012},{"x":171,"y":4.5,"v":0.011},{"x":177,"y":4.5,"v":0.003},
{"x":3,"y":7.5,"v":0.004},{"x":9,"y":7.5,"v":0.014},{"x":15,"y":7.5,"v":0.019},{"x":21,"y":7.5,"v":0.022},{"x":27,"y":7.5,"v":0.027},{"x":33,"y":7.5,"v":0.034},{"x":39,"y":7.5,"v":0.037},{"x":45,"y":7.5,"v":0.038},{"x":51,"y":7.5,"v":0.039},{"x":57,"y":7.5,"v":0.04},{"x":63,"y":7.5,"v":0.042},{"x":69,"y":7.5,"v":0.043},{"x":75,"y":7.5,"v":0.045},{"x":81,"y":7.5,"v":0.045},{"x":87,"y":7.5,"v":0.046},{"x":93,"y":7.5,"v":0.046},{"x":99,"y":7.5,"v":0.046},{"x":105,"y":7.5,"v":0.046},{"x":111,"y":7.5,"v":0.045},{"x":117,"y":7.5,"v":0.042},{"x":123,"y":7.5,"v":0.039},{"x":129,"y":7.5,"v":0.036},{"x":135,"y":7.5,"v":0.03},{"x":141,"y":7.5,"v":0.025},{"x":147,"y":7.5,"v":0.021},{"x":153,"y":7.5,"v":0.015},{"x":159,"y":7.5,"v":0.012},{"x":165,"y":7.5,"v":0.012},{"x":171,"y":7.5,"v":0.011},{"x":177,"y":7.5,"v":0.004},
{"x":3,"y":10.5,"v":0.004},{"x":9,"y":10.5,"v":0.014},{"x":15,"y":10.5,"v":0.019},{"x":21,"y":10.5,"v":0.022},{"x":27,"y":10.5,"v":0.028},{"x":33,"y":10.5,"v":0.034},{"x":39,"y":10.5,"v":0.037},{"x":45,"y":10.5,"v":0.038},{"x":51,"y":10.5,"v":0.039},{"x":57,"y":10.5,"v":0.04},{"x":63,"y":10.5,"v":0.042},{"x":69,"y":10.5,"v":0.044},{"x":75,"y":10.5,"v":0.045},{"x":81,"y":10.5,"v":0.046},{"x":87,"y":10.5,"v":0.046},{"x":93,"y":10.5,"v":0.047},{"x":99,"y":10.5,"v":0.047},{"x":105,"y":10.5,"v":0.046},{"x":111,"y":10.5,"v":0.044},{"x":117,"y":10.5,"v":0.041},{"x":123,"y":10.5,"v":0.038},{"x":129,"y":10.5,"v":0.036},{"x":135,"y":10.5,"v":0.03},{"x":141,"y":10.5,"v":0.025},{"x":147,"y":10.5,"v":0.021},{"x":153,"y":10.5,"v":0.015},{"x":159,"y":10.5,"v":0.012},{"x":165,"y":10.5,"v":0.012},{"x":171,"y":10.5,"v":0.011},{"x":177,"y":10.5,"v":0.004}]
},
"concat":[
{"title":"Lateral Force coefficient","width":260,"height":293,"data":{"name":"a"},"layer":[{"mark":{"type":"rect","clip":true,"binSpacing":0}},{"mark":{"type":"rect","clip":true,"binSpacing":0}}],"encoding":{"x":{"field":"x","type":"quantitative","bin":{"step":6,"extent":[0,180]},"scale":{"domain":[0,180],"round":true},"axis":{"values":[0,50,100,150],"format":"d","title":"Yaw angle (º)"}},"y":{"field":"y","type":"quantitative","bin":{"step":1.5,"extent":[-9,12]},"scale":{"domain":[-9,12],"round":true},"axis":{"values":[-7.5,-5,-2.5,0,2.5,5,7.5,10],"format":".1f","title":"Pitch angle (º)"}},"color":{"field":"v","type":"quantitative","scale":{"domain":[-0.0422,-0.03147,-0.02074,-0.01001,0.00072,0.01145,0.02218,0.03291,0.04364,0.05437,0.0651],"range":["#006837","#1a9850","#66bd63","#a6d96a","#d9ef8b","#ffffbf","#fee08b","#fdae61","#f46d43","#d73027","#a50026"]},"legend":{"values":[-0.04,-0.02,0,0.02,0.04,0.06],"format":".2f"}}}},
{"title":"Roll moment coefficient","width":260,"height":293,"data":{"name":"b"},"layer":[{"mark":{"type":"rect","clip":true,"binSpacing":0}},{"mark":{"type":"rect","clip":true,"binSpacing":0}}],"encoding":{"x":{"field":"x","type":"quantitative","bin":{"step":6,"extent":[0,180]},"scale":{"domain":[0,180],"round":true},"axis":{"values":[0,50,100,150],"format":"d","title":"Yaw angle (º)"}},"y":{"field":"y","type":"quantitative","bin":{"step":3,"extent":[-9,12]},"scale":{"domain":[-9,12],"round":true},"axis":{"values":[-7.5,-5,-2.5,0,2.5,5,7.5,10],"format":".1f","title":"Pitch angle (º)"}},"color":{"field":"v","type":"quantitative","scale":{"domain":[-0.0296,-0.02538,-0.02116,-0.01694,-0.01272,-0.0085,-0.00428,-0.00006,0.00416,0.00838,0.0126],"range":["#006837","#1a9850","#66bd63","#a6d96a","#d9ef8b","#ffffbf","#fee08b","#fdae61","#f46d43","#d73027","#a50026"]},"legend":{"values":[-0.025,-0.02,-0.015,-0.01,-0.005,0,0.005,0.01],"format":".3f"}}}},
{"title":"Pitch moment coefficient","width":260,"height":293,"data":{"name":"c"},"layer":[{"mark":{"type":"rect","clip":true,"binSpacing":0}},{"mark":{"type":"rect","clip":true,"binSpacing":0}}],"encoding":{"x":{"field":"x","type":"quantitative","bin":{"step":6,"extent":[0,180]},"scale":{"domain":[0,180],"round":true},"axis":{"values":[0,50,100,150],"format":"d","title":"Yaw angle (º)"}},"y":{"field":"y","type":"quantitative","bin":{"step":1.5,"extent":[-9,12]},"scale":{"domain":[-9,12],"round":true},"axis":{"values":[-7.5,-5,-2.5,0,2.5,5,7.5,10],"format":".1f","title":"Pitch angle (º)"}},"color":{"field":"v","type":"quantitative","scale":{"domain":[-0.1157,-0.09862,-0.08154,-0.06446,-0.04738,-0.0303,-0.01322,0.00386,0.02094,0.03802,0.0551],"range":["#006837","#1a9850","#66bd63","#a6d96a","#d9ef8b","#ffffbf","#fee08b","#fdae61","#f46d43","#d73027","#a50026"]},"legend":{"values":[-0.1,-0.08,-0.06,-0.04,-0.02,0,0.02,0.04],"format":".2f"}}}},
{"title":"Yaw moment coefficient","width":260,"height":293,"data":{"name":"d"},"layer":[{"mark":{"type":"rect","clip":true,"binSpacing":0}},{"mark":{"type":"rect","clip":true,"binSpacing":0}}],"encoding":{"x":{"field":"x","type":"quantitative","bin":{"step":6,"extent":[0,180]},"scale":{"domain":[0,180],"round":true},"axis":{"values":[0,50,100,150],"format":"d","title":"Yaw angle (º)"}},"y":{"field":"y","type":"quantitative","bin":{"step":3,"extent":[-9,12]},"scale":{"domain":[-9,12],"round":true},"axis":{"values":[-7.5,-5,-2.5,0,2.5,5,7.5,10],"format":".1f","title":"Pitch angle (º)"}},"color":{"field":"v","type":"quantitative","scale":{"domain":[-0.0022,0.00292,0.00804,0.01316,0.01828,0.0234,0.02852,0.03364,0.03876,0.04388,0.049],"range":["#006837","#1a9850","#66bd63","#a6d96a","#d9ef8b","#ffffbf","#fee08b","#fdae61","#f46d43","#d73027","#a50026"]},"legend":{"values":[0,0.01,0.02,0.03,0.04],"format":".2f"}}}}
]}
